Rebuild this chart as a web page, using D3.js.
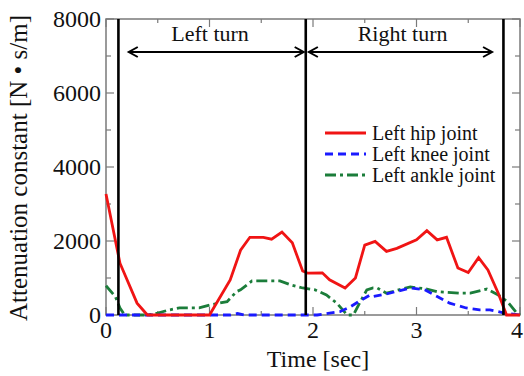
<!DOCTYPE html>
<html>
<head>
<meta charset="utf-8">
<script src="https://cdn.jsdelivr.net/npm/d3@7"></script>
<style>
  body { margin: 0; background: #fff; }
  text { font-family: "Liberation Serif", "Times New Roman", serif; fill: #111; }
</style>
</head>
<body>
<script>
// data (time in sec, value in N·s/m)
var hipT  = [0, 0.135, 0.3, 0.4, 1.0, 1.2, 1.3, 1.39, 1.52, 1.6, 1.7, 1.8, 1.9, 1.95, 2.09, 2.16, 2.31, 2.41, 2.5, 2.6, 2.71, 2.81, 3.0, 3.1, 3.2, 3.29, 3.4, 3.5, 3.6, 3.69, 3.79, 3.87, 4.0];
var hipV  = [3270, 1400, 320, 0, 0, 950, 1750, 2100, 2100, 2050, 2240, 1950, 1190, 1130, 1140, 950, 730, 1000, 1890, 1990, 1720, 1800, 2030, 2280, 2030, 2100, 1270, 1150, 1550, 1220, 590, 0, 0];

var kneeT = [0, 1.2, 1.27, 1.34, 2.04, 2.16, 2.26, 2.36, 2.44, 2.55, 2.58, 2.74, 2.94, 3.08, 3.2, 3.32, 3.48, 3.61, 3.71, 3.84, 4.0];
var kneeV = [0, 0, 40, 0, 0, 50, 90, 220, 360, 540, 500, 590, 730, 680, 500, 320, 190, 140, 140, 60, 0];

var ankleT = [0, 0.09, 0.135, 0.18, 0.4, 0.5, 0.6, 0.71, 0.9, 1.0, 1.17, 1.26, 1.3, 1.41, 1.68, 1.79, 1.9, 2.02, 2.13, 2.23, 2.33, 2.39, 2.45, 2.52, 2.58, 2.62, 2.71, 2.94, 3.1, 3.2, 3.42, 3.52, 3.68, 3.79, 3.88, 3.97, 4.0];
var ankleV = [790, 500, 190, 0, 0, 50, 130, 190, 190, 270, 360, 630, 680, 920, 920, 810, 730, 680, 540, 320, 0, 0, 320, 680, 730, 730, 590, 760, 700, 630, 590, 590, 700, 540, 360, 50, 0];

var seriesNames = ['Left hip joint', 'Left knee joint', 'Left ankle joint'];
var xTicks = [0, 1, 2, 3, 4];
var yTicks = [0, 2000, 4000, 6000, 8000];
var events = [0.12, 1.93, 3.84];          // vertical lines
var phases = ['Left turn', 'Right turn'];
var phaseSpan = [[0.22, 1.91], [1.96, 3.73]];

var W = 524, H = 376;
var m = { left: 106, top: 19, right: 4, bottom: 61 };

var x = d3.scaleLinear().domain([0, 4]).range([m.left, W - m.right]);
var y = d3.scaleLinear().domain([0, 8000]).range([H - m.bottom, m.top]);

var svg = d3.select('body').append('svg')
  .attr('width', W)
  .attr('height', H);

// frame
svg.append('rect')
  .attr('x', x(0)).attr('y', y(8000))
  .attr('width', x(4) - x(0)).attr('height', y(0) - y(8000))
  .attr('fill', 'none').attr('stroke', '#7a7a7a').attr('stroke-width', 1.5);

// inward ticks on all four sides
var tickG = svg.append('g').attr('stroke', '#7a7a7a').attr('stroke-width', 1.2);
d3.range(0, 4.01, 0.5).forEach(function(t){
  var len = (t % 1 === 0) ? 8 : 4;
  tickG.append('line').attr('x1', x(t)).attr('x2', x(t)).attr('y1', y(0)).attr('y2', y(0) - len);
  tickG.append('line').attr('x1', x(t)).attr('x2', x(t)).attr('y1', y(8000)).attr('y2', y(8000) + len);
});
d3.range(0, 8001, 1000).forEach(function(v){
  var len = (v % 2000 === 0) ? 8 : 5;
  tickG.append('line').attr('y1', y(v)).attr('y2', y(v)).attr('x1', x(0)).attr('x2', x(0) + len);
  tickG.append('line').attr('y1', y(v)).attr('y2', y(v)).attr('x1', x(4)).attr('x2', x(4) - len);
});

// tick labels
svg.append('g').selectAll('text')
  .data(yTicks)
  .enter()
    .append('text')
      .attr('x', x(0) - 5)
      .attr('y', function(d){ return y(d) + 8; })
      .attr('text-anchor', 'end')
      .style('font-size', '24px')
      .text(function(d){ return d; });

svg.append('g').selectAll('text')
  .data(xTicks)
  .enter()
    .append('text')
      .attr('x', function(d){ return Math.min(x(d), W - 7); })
      .attr('y', y(0) + 23)
      .attr('text-anchor', 'middle')
      .style('font-size', '24px')
      .text(function(d){ return d; });

// axis titles
svg.append('text')
  .attr('x', 318).attr('y', 367)
  .attr('text-anchor', 'middle')
  .style('font-size', '24px')
  .text('Time [sec]');

svg.append('text')
  .attr('transform', 'translate(27,168) rotate(-90)')
  .attr('text-anchor', 'middle')
  .style('font-size', '25px')
  .text('Attenuation constant [N \u2022 s/m]');

// series
var line = d3.line()
  .x(function(d){ return x(d[0]); })
  .y(function(d){ return y(d[1]); });

var series = [
  { name: seriesNames[0], pts: d3.zip(hipT, hipV),     color: '#f01414', dash: null },
  { name: seriesNames[1], pts: d3.zip(kneeT, kneeV),   color: '#1a1aff', dash: '8,5' },
  { name: seriesNames[2], pts: d3.zip(ankleT, ankleV), color: '#1b7d3a', dash: '11,4,3,4' }
];

svg.append('g').selectAll('path')
  .data(series.slice().reverse())
  .enter()
    .append('path')
      .attr('d', function(d){ return line(d.pts); })
      .attr('fill', 'none')
      .attr('stroke', function(d){ return d.color; })
      .attr('stroke-width', 2.8)
      .attr('stroke-dasharray', function(d){ return d.dash; });

// event lines
svg.append('g').selectAll('line')
  .data(events)
  .enter()
    .append('line')
      .attr('x1', function(d){ return x(d); })
      .attr('x2', function(d){ return x(d); })
      .attr('y1', y(8000)).attr('y2', y(0))
      .attr('stroke', '#000').attr('stroke-width', 2.6);

// phase arrows and labels
var ay = 52;
phaseSpan.forEach(function(s, i){
  var x1 = x(s[0]), x2 = x(s[1]);
  var g = svg.append('g').attr('stroke', '#000').attr('stroke-width', 2).attr('fill', 'none');
  g.append('line').attr('x1', x1).attr('x2', x2).attr('y1', ay).attr('y2', ay);
  g.append('path').attr('d', 'M' + (x1 + 9) + ',' + (ay - 5) + 'L' + x1 + ',' + ay + 'L' + (x1 + 9) + ',' + (ay + 5));
  g.append('path').attr('d', 'M' + (x2 - 9) + ',' + (ay - 5) + 'L' + x2 + ',' + ay + 'L' + (x2 - 9) + ',' + (ay + 5));
  svg.append('text')
    .attr('x', (x(events[i]) + x(events[i + 1])) / 2 - 2)
    .attr('y', 41)
    .attr('text-anchor', 'middle')
    .style('font-size', '22px')
    .text(phases[i]);
});

// legend
var legend = svg.append('g').attr('class', 'legend');
series.forEach(function(d, i){
  var ly = 133 + i * 21;
  legend.append('line')
    .attr('x1', 325).attr('x2', 366).attr('y1', ly).attr('y2', ly)
    .attr('stroke', d.color).attr('stroke-width', 2.8)
    .attr('stroke-dasharray', d.dash);
  legend.append('text')
    .attr('x', 372).attr('y', ly + 7)
    .style('font-size', '20px')
    .text(d.name);
});
</script>
</body>
</html>
